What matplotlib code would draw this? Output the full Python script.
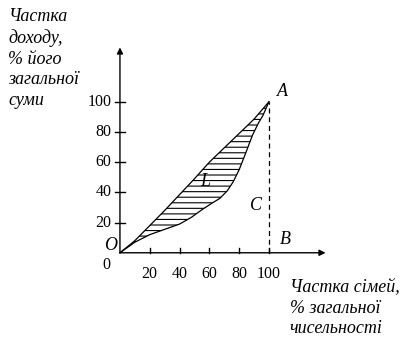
import matplotlib
matplotlib.use("Agg")
import matplotlib.pyplot as plt
import numpy as np

plt.rcParams['font.family'] = ['Liberation Serif', 'DejaVu Serif']
plt.rcParams['hatch.linewidth'] = 0.8

# кривая абсолютної рівності (майже пряма) і крива Лоренца
upper_x = [0, 10, 20, 30, 40, 50, 60, 70, 80, 90, 100]
upper_y = [0, 8, 18, 28, 38.5, 49, 60, 69.5, 79, 88.5, 100]
lower_x = [0, 10, 20, 30, 40, 48, 55, 62, 67, 72, 76, 80, 84, 89, 93, 96, 100]
lower_y = [0, 7, 12, 15.5, 19, 23.5, 28.5, 33, 36, 41, 47, 55, 65, 78, 86, 91, 100]

ticks = [20, 40, 60, 80, 100]
tick_labels = ['20', '40', '60', '80', '100']

fig = plt.figure(figsize=(4.09, 3.47), dpi=100)
ax = fig.add_axes([0, 0, 1, 1])
# 1 px ~ 0.671 x-units, 0.662 y-units; origin at pixel (120, 253)
ax.set_xlim(-80.5, 194.0)
ax.set_ylim(-62.4, 167.4)
ax.axis('off')

# axes with arrows
ax.annotate('', xy=(138, 0), xytext=(0, 0),
            arrowprops=dict(arrowstyle='-|>', color='black', lw=1.0,
                            mutation_scale=9, shrinkA=0, shrinkB=0))
ax.annotate('', xy=(0, 136), xytext=(0, 0),
            arrowprops=dict(arrowstyle='-|>', color='black', lw=1.0,
                            mutation_scale=9, shrinkA=0, shrinkB=0))

# ticks
for t, lab in zip(ticks, tick_labels):
    ax.plot([t, t], [0, 3], color='black', lw=1.0)
    ax.text(t, -14, lab, ha='center', va='center', fontsize=11.5)
    ax.plot([-3.3, 3.3], [t, t], color='black', lw=1.0)
    ax.text(-5.5, t, lab, ha='right', va='center', fontsize=11.5)
ax.text(-9, -8, '0', ha='center', va='center', fontsize=11.5)

# hatched area between curves
poly_x = upper_x + lower_x[::-1]
poly_y = upper_y + lower_y[::-1]
ax.fill(poly_x, poly_y, facecolor='none', edgecolor='black', linewidth=0,
        hatch='---')
ax.plot(upper_x, upper_y, color='black', lw=0.9)
ax.plot(lower_x, lower_y, color='black', lw=0.9)

# dashed line A-B
ax.plot([100, 100], [0, 100], color='black', lw=0.9, linestyle=(0, (4, 3)))

# letters
it = dict(fontsize=13, style='italic', ha='center', va='center')
ax.text(-6.5, 4.5, 'O', **it)
ax.text(109, 107, 'A', **it)
ax.text(111, 9, 'B', **it)
ax.text(91, 31, 'C', **it)
ax.text(57, 47, 'L', **it)

# axis titles
ax.text(-75, 162, 'Частка\nдоходу,\n% його\nзагальної\nсуми', fontsize=13,
        style='italic', ha='left', va='top', linespacing=1.28)
ax.text(114, -17.5, 'Частка сімей,\n% загальної\nчисельності', fontsize=13,
        style='italic', ha='left', va='top', linespacing=1.28)

fig.savefig('out.png', dpi=100)
